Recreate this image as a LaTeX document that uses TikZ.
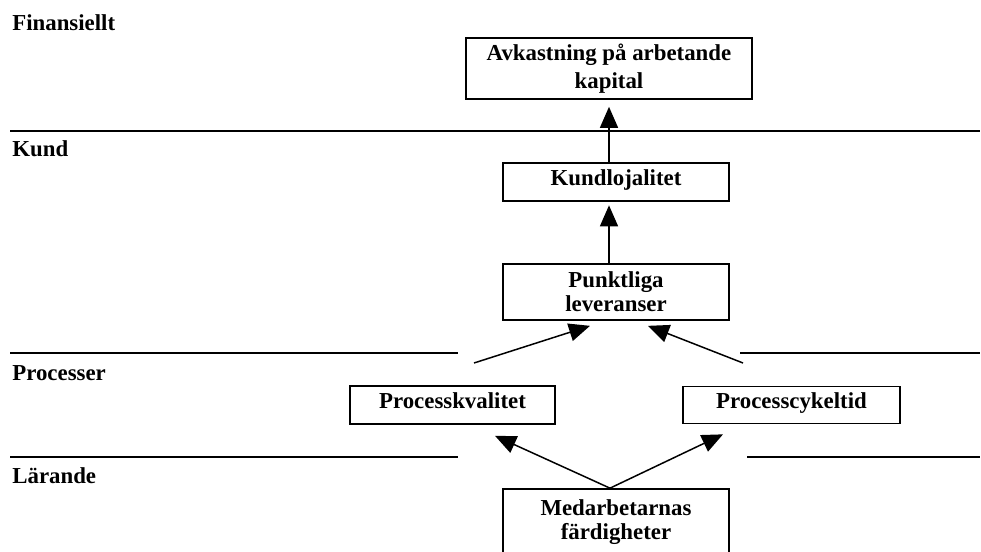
\documentclass[tikz,border=0pt]{standalone}
\usepackage{fontspec}
\setmainfont{Liberation Serif}
\usetikzlibrary{positioning,arrows.meta,calc}
\tikzset{
	every picture/.style={/utils/exec={\bfseries\fontsize{13}{13.6}\selectfont}},
	box/.style={draw, line width=0.95pt, align=center, inner sep=2pt},
	oneline/.style={text height=2.4mm, text depth=1mm},
	perspective/.style={anchor=base west, inner sep=0pt},
	separator/.style={line width=0.8pt},
	link/.style={line width=0.85pt, -{Triangle[length=4.2mm,width=3.6mm]}},
}

\begin{document}
\begin{tikzpicture}[x=0.2mm, y=-0.2mm]
	\useasboundingbox (0,0) rectangle (981,552);
	\clip (0,0) rectangle (981,552);

	% perspectives
	\node[perspective] (finansiellt) at (12,30) {Finansiellt};
	\node[perspective] (kund) at (12,156) {Kund};
	\node[perspective] (processer) at (12,380) {Processer};
	\node[perspective] (larande) at (12,483) {Lärande};

	\draw[separator] (10,131) -- (980,131);
	\draw[separator] (10,353) -- (458,353);
	\draw[separator] (740,353) -- (980,353);
	\draw[separator] (10,457) -- (458,457);
	\draw[separator] (747,457) -- (980,457);

	% measures
	\node[box, minimum width=57.2mm, minimum height=12.2mm] (avkastning) at (609,68.5) {Avkastning på arbetande\\[0.8mm]kapital};
	\node[box, oneline, minimum width=45.2mm, minimum height=7.6mm] (kundlojalitet) at (616,182) {Kundlojalitet};
	\node[box, minimum width=45.2mm, minimum height=11.2mm] (leveranser) at (616,292) {Punktliga\\leveranser};
	\node[box, oneline, minimum width=41mm, minimum height=7.6mm] (kvalitet) at (452.5,405) {Processkvalitet};
	\node[box, oneline, minimum width=43.4mm, minimum height=7.4mm] (cykeltid) at (791.5,405) {Processcykeltid};
	\node[box, minimum width=45.2mm, minimum height=13.4mm] (medarbetare) at (616,522.5) {Medarbetarnas\\färdigheter};

	\coordinate (fromleft) at (474,363);
	\coordinate (fromright) at (743,363);

	\draw[link, shorten >=1.4mm] (kundlojalitet.north -| avkastning.south) -- (avkastning.south);
	\draw[link, shorten >=0.7mm] (leveranser.north -| avkastning.south) -- (kundlojalitet.south -| avkastning.south);
	\draw[link] (fromleft) -- ([shift={(-26,5)}]leveranser.south);
	\draw[link] (fromright) -- ([shift={(32,5)}]leveranser.south);
	\draw[link] ([shift={(-6,0)}]medarbetare.north) -- ([shift={(42.5,11)}]kvalitet.south);
	\draw[link] ([shift={(-6,0)}]medarbetare.north) -- ([shift={(-68.5,10)}]cykeltid.south);
\end{tikzpicture}
\end{document}
